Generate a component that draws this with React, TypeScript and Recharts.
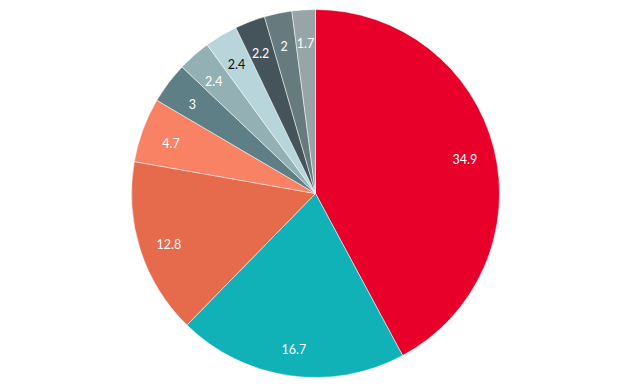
import React from 'react';
import { PieChart, Pie, Cell } from 'recharts';

const labels = ['A', 'B', 'C', 'D', 'E', 'F', 'G', 'H', 'I', 'J'];
const values = [34.9, 16.7, 12.8, 4.7, 3, 2.4, 2.4, 2.2, 2, 1.7];
const colors = [
  '#e8002b', '#10b2b8', '#e56b4c', '#f98264', '#5e7f85',
  '#93b0b5', '#b7d5db', '#44545a', '#677a7e', '#97a5a8',
];
const labelColors = ['#fff', '#fff', '#fff', '#fff', '#fff', '#fff', '#111', '#fff', '#fff', '#fff'];

const data = labels.map((name, i) => ({ name, value: values[i] }));

const RAD = Math.PI / 180;

const renderLabel = (props: any) => {
  const { cx, cy, midAngle, outerRadius, value, index } = props;
  const r = outerRadius * 0.837;
  const x = cx + r * Math.cos(-midAngle * RAD);
  const y = cy + r * Math.sin(-midAngle * RAD) + 3.5;
  return (
    <text
      x={x}
      y={y}
      fill={labelColors[index]}
      textAnchor="middle"
      dominantBaseline="central"
      fontFamily="Lato, sans-serif"
      fontSize={12.5}
    >
      {value}
    </text>
  );
};

export default function App() {
  return (
    <div style={{ position: 'absolute', left: 0, top: 0, width: 627, height: 391, background: '#fff' }}>
      <PieChart width={627} height={391} margin={{ top: 0, right: 0, bottom: 0, left: 0 }}>
        <Pie
          data={data}
          dataKey="value"
          nameKey="name"
          cx={315.5}
          cy={193.5}
          outerRadius={184}
          startAngle={90}
          endAngle={-270}
          stroke="#fff"
          strokeWidth={0.5}
          label={renderLabel}
          labelLine={false}
          isAnimationActive={false}
        >
          {data.map((d, i) => (
            <Cell key={d.name} fill={colors[i]} />
          ))}
        </Pie>
      </PieChart>
    </div>
  );
}
